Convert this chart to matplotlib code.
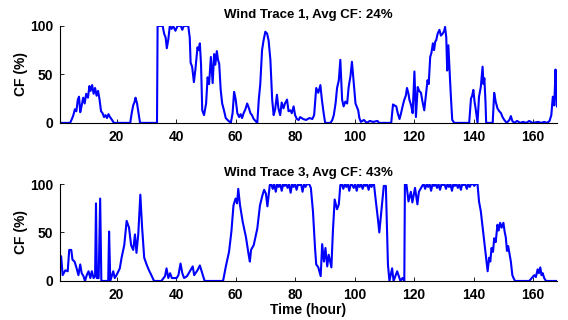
import matplotlib
matplotlib.use('Agg')
import matplotlib.pyplot as plt

# Wind Trace 1 (hour, capacity factor %)
t1_hour = [1.0, 4.4, 5.0, 5.5, 6.0, 6.5, 7.0, 7.4, 7.8, 8.3, 8.8, 9.3, 9.8, 10.4, 10.9, 11.3, 11.8,
           12.3, 12.8, 13.3, 13.8, 14.3, 14.8, 15.3, 15.8, 16.3, 16.8, 17.3, 17.8, 18.5, 19.1,
           24.6, 25.1, 25.6, 26.1, 26.4, 26.9, 27.4, 27.9,
           33.6, 33.8, 35.5, 36.0, 36.5, 36.9, 37.4, 37.9, 38.5, 39.0, 39.8, 40.5, 41.6, 42.1, 42.6,
           44.1, 44.6, 44.9, 45.4, 46.0, 46.5, 47.2, 47.6, 48.0, 48.4, 48.8, 49.4, 50.1, 50.6, 51.1,
           51.7, 52.3, 52.8, 53.2, 53.7, 54.1, 54.5, 55.0, 55.5, 56.1, 56.7, 57.3, 58.4, 59.0, 59.5,
           60.0, 60.6, 61.2, 61.7, 62.2, 62.7, 63.3, 63.9, 64.5, 65.0, 65.5, 66.1, 66.7, 67.3, 67.8,
           68.3, 68.9, 69.4, 70.0, 70.6, 71.1, 71.7, 72.3, 72.8, 73.3, 73.9, 74.4, 75.0, 75.5, 76.1,
           76.6, 77.3, 77.8, 78.4, 78.9, 79.5, 80.0, 80.6, 81.2, 81.7, 82.7, 83.7, 84.8, 85.8, 86.4,
           87.1, 87.8, 88.5, 89.0, 89.6, 90.1, 91.9, 92.5, 93.0, 93.6, 94.1, 94.7, 95.2, 95.8, 96.3,
           96.9, 97.5, 98.0, 98.6, 99.1, 99.7, 100.3, 101.2, 101.6, 102.1, 103.1, 104.1, 105.1,
           106.2, 107.7, 108.2, 112.3, 112.9, 113.4, 114.0, 114.5, 115.1, 115.6, 116.2, 116.7,
           117.2, 117.6, 118.1, 118.4, 119.0, 119.5, 120.1, 120.6, 121.2, 121.7, 122.3, 122.8,
           123.4, 124.0, 124.5, 124.9, 125.4, 125.8, 126.3, 126.7, 127.1, 127.4, 127.9, 128.5,
           129.0, 129.6, 130.1, 130.4, 130.8, 131.1, 131.5, 131.8, 132.3, 132.8, 133.5,
           138.5, 139.1, 139.5, 139.9, 140.3, 140.7, 141.3, 141.8, 142.4, 143.0, 143.3, 143.6,
           144.0, 144.2, 146.4, 146.9, 147.4, 148.0, 148.6, 149.2, 149.7, 150.3, 151.1, 152.0,
           152.5, 153.0, 153.6, 154.6, 155.6, 156.6, 157.7, 158.7, 159.7, 161.7, 162.7, 163.7,
           164.7, 165.5, 166.1, 166.6, 167.1, 167.5, 167.8, 168.0]
t1_cf = [0, 0, 4, 8, 14, 12, 24, 27, 11, 18, 26, 20, 30, 26, 38, 33, 39,
         30, 36, 28, 33, 24, 12, 10, 6, 8, 5, 9, 6, 3, 0,
         0, 10, 18, 22, 26, 20, 10, 0,
         0, 100, 100, 92, 88, 77, 86, 100, 97, 100, 95, 100, 100, 96, 100,
         100, 88, 62, 58, 42, 55, 78, 75, 82, 60, 13, 8, 20, 47, 40,
         68, 41, 71, 60, 74, 65, 61, 34, 20, 13, 5, 3, 0, 10, 32,
         25, 10, 6, 9, 5, 10, 14, 20, 15, 10, 8, 4, 2, 0, 24,
         40, 75, 85, 94, 92, 85, 65, 24, 8, 14, 29, 15, 8, 21, 15,
         20, 24, 12, 13, 10, 17, 8, 4, 3, 6, 4, 3, 5, 4, 8,
         36, 31, 39, 24, 10, 0, 0, 3, 8, 20, 36, 44, 65, 24, 17,
         22, 20, 37, 48, 63, 41, 20, 13, 5, 1, 3, 0, 2,
         1, 2, 0, 0, 19, 18, 17, 10, 4, 10, 18, 24,
         28, 36, 30, 24, 18, 10, 53, 6, 37, 33, 31, 22,
         13, 30, 44, 40, 68, 72, 82, 75, 84, 85, 92, 96,
         90, 92, 95, 99, 88, 54, 80, 61, 30, 3, 0,
         0, 25, 28, 34, 22, 14, 0, 27, 37, 58, 40, 46,
         20, 0, 0, 31, 22, 15, 12, 10, 6, 3, 0, 3,
         7, 2, 0, 2, 0, 1, 0, 2, 0, 1, 0, 1,
         0, 2, 8, 27, 18, 55, 30, 17]

# Wind Trace 3 (hour, capacity factor %)
t3_hour = [1.0, 1.4, 1.9, 2.8, 3.6, 4.1, 4.8, 5.2, 5.9, 6.6, 7.2, 7.8, 8.3, 8.9, 9.4, 10.0,
           10.6, 11.2, 11.7, 12.3, 12.8, 13.1, 13.4, 14.0, 14.5, 14.9, 17.2, 17.5, 17.9, 18.9,
           19.4, 20.0, 21.1, 21.7, 22.6, 23.4, 24.2, 24.9, 25.6, 26.2, 26.7, 27.3, 28.0, 28.6,
           29.3, 30.1, 30.9, 31.7, 32.6, 35.1, 36.3, 36.8, 37.4, 38.0, 38.6, 40.2, 40.8, 41.5,
           42.1, 42.7, 43.7, 45.6, 46.1, 47.2, 48.0, 48.8, 49.6, 55.8, 56.8, 57.8, 58.6, 59.3,
           60.0, 60.5, 60.9, 61.5, 62.4, 63.5, 64.4, 64.8, 65.2, 66.1, 67.3, 68.2, 69.0, 69.6,
           70.2, 70.7, 71.5, 72.0, 72.5, 73.0, 73.5, 74.0, 74.5, 75.0, 75.5, 76.0, 76.5, 77.0,
           77.5, 78.0, 78.5, 79.0, 79.5, 80.0, 80.5, 81.0, 81.5, 82.0, 82.5, 83.0, 83.5, 84.0,
           84.7, 85.3, 86.0, 86.7, 87.1, 87.8, 88.6, 89.1, 89.7, 90.2, 90.8, 91.3, 92.2, 92.7,
           93.3, 94.1, 94.7, 95.2, 95.7, 96.2, 96.7, 97.2, 97.7, 98.2, 98.7, 99.2, 99.7, 100.2,
           100.7, 101.2, 101.7, 102.2, 102.7, 103.2, 103.7, 104.2, 104.7, 105.2, 105.7, 106.1,
           106.5, 107.0, 107.9, 108.3, 109.0, 109.8, 110.5, 111.2, 111.7, 112.6, 113.1, 114.3,
           115.4, 116.1, 116.7, 116.9, 117.4, 118.1, 118.9, 119.4, 120.3, 121.1, 121.6, 122.7,
           123.2, 123.7, 124.2, 124.7, 125.2, 125.7, 126.2, 126.7, 127.2, 127.7, 128.2, 128.7,
           129.2, 129.7, 130.2, 130.7, 131.2, 131.7, 132.2, 132.7, 133.2, 133.7, 134.2, 134.7,
           135.2, 135.7, 136.2, 136.7, 137.2, 137.7, 138.2, 138.7, 139.2, 139.7, 140.2, 140.7,
           141.3, 141.8, 142.4, 143.3, 144.1, 144.7, 145.2, 145.6, 146.0, 146.5, 146.9, 147.4,
           148.0, 148.4, 148.9, 149.4, 150.0, 150.4, 150.8, 151.2, 151.6, 152.1, 152.5, 153.0,
           153.4, 153.9, 158.7, 159.5, 160.4, 160.9, 161.5, 161.9, 162.4, 162.8, 163.2, 163.7,
           164.3, 168.0]
t3_cf = [27, 25, 6, 11, 10, 32, 32, 22, 20, 13, 6, 17, 8, 5, 0, 6,
         10, 3, 10, 3, 5, 80, 3, 3, 85, 0, 0, 51, 0, 10,
         3, 6, 13, 24, 37, 62, 55, 37, 32, 48, 29, 48, 89, 55,
         24, 17, 11, 6, 0, 0, 5, 13, 3, 8, 3, 3, 6, 18,
         8, 3, 5, 15, 6, 11, 16, 8, 0, 0, 16, 30, 51, 78,
         85, 80, 95, 78, 61, 45, 27, 20, 32, 37, 54, 78, 88, 94,
         90, 77, 99, 100, 95, 100, 92, 100, 97, 100, 93, 100, 98, 100,
         96, 100, 91, 100, 97, 100, 94, 100, 99, 100, 92, 100, 97, 100,
         100, 96, 72, 34, 17, 14, 5, 38, 20, 34, 15, 27, 14, 51,
         84, 74, 79, 99, 100, 95, 100, 97, 100, 93, 100, 99, 96, 100,
         93, 100, 97, 100, 95, 100, 98, 100, 94, 100, 97, 100,
         100, 86, 62, 50, 72, 98, 98, 17, 0, 13, 0, 10,
         0, 3, 0, 100, 100, 82, 92, 81, 96, 79, 92, 98,
         100, 95, 100, 97, 100, 93, 100, 98, 100, 96, 100, 94,
         100, 99, 100, 95, 100, 97, 100, 93, 100, 98, 100, 96,
         100, 94, 100, 99, 100, 95, 100, 97, 100, 100, 98, 100,
         100, 82, 72, 48, 27, 10, 24, 20, 34, 30, 44, 40,
         58, 52, 60, 55, 60, 51, 45, 31, 36, 27, 20, 6,
         3, 0, 0, 3, 6, 4, 12, 8, 14, 6, 8, 3,
         0, 0]

titles = ['Wind Trace 1, Avg CF: 24%', 'Wind Trace 3, Avg CF: 43%']
x_ticks = [20, 40, 60, 80, 100, 120, 140, 160]
y_ticks = [0, 50, 100]

plt.rcParams['font.family'] = ['Liberation Sans', 'DejaVu Sans']
plt.rcParams['font.weight'] = 'bold'
plt.rcParams['font.size'] = 10

fig = plt.figure(figsize=(5.68, 3.2), dpi=100)
ax1 = fig.add_axes([0.1056, 0.616, 0.875, 0.303])
ax2 = fig.add_axes([0.1056, 0.122, 0.875, 0.303])

for ax, hours, cf, title in [(ax1, t1_hour, t1_cf, titles[0]), (ax2, t3_hour, t3_cf, titles[1])]:
    ax.plot(hours, cf, color='#0000ff', lw=1.5)
    ax.set_xlim(1, 168)
    ax.set_ylim(0, 100)
    ax.set_xticks(x_ticks)
    ax.set_yticks(y_ticks)
    ax.set_xticklabels([str(t) for t in x_ticks], fontweight='bold')
    ax.set_yticklabels([str(t) for t in y_ticks], fontweight='bold')
    ax.spines['top'].set_visible(False)
    ax.spines['right'].set_visible(False)
    ax.spines['left'].set_linewidth(0.8)
    ax.spines['bottom'].set_linewidth(0.8)
    ax.tick_params(direction='in', length=3, width=0.6, labelsize=10, pad=5)
    ax.set_title(title, fontsize=9.5, fontweight='bold', pad=6)
    ax.set_ylabel('CF (%)', fontsize=10, fontweight='bold', labelpad=1)

ax2.set_xlabel('Time (hour)', fontsize=10, fontweight='bold', labelpad=1)

fig.savefig('out.png', dpi=100)
